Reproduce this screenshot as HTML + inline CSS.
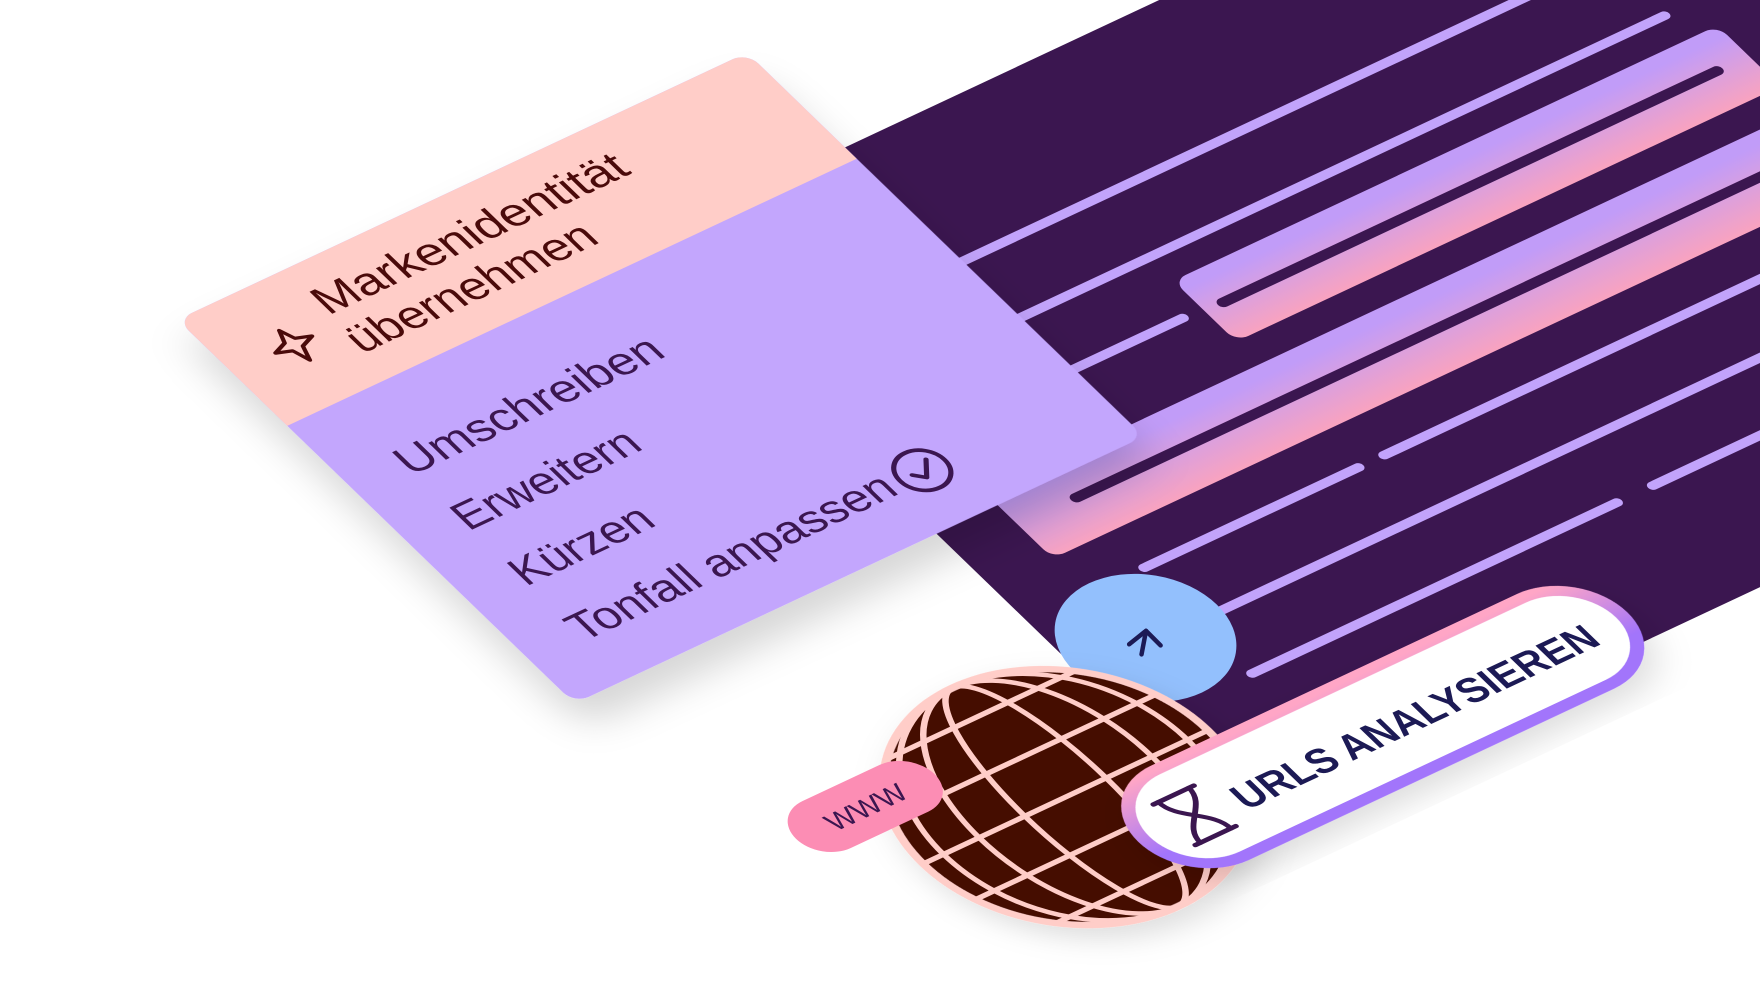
<!DOCTYPE html>
<html><head><meta charset="utf-8"><style>
html,body{margin:0;padding:0;background:#fff;width:1760px;height:990px;overflow:hidden}
svg{display:block}
text{font-family:"Liberation Sans",sans-serif}
</style></head><body>
<svg width="1760" height="990" viewBox="0 0 1568 882" xmlns="http://www.w3.org/2000/svg">
<defs>
<linearGradient id="blk" x1="0" y1="0" x2="0" y2="1">
<stop offset="0.15" stop-color="#c19cf8"/><stop offset="1" stop-color="#f9a3bf"/>
</linearGradient>
<linearGradient id="pill" x1="0" y1="0" x2="0" y2="1">
<stop offset="0" stop-color="#ffa6c6"/><stop offset="0.7" stop-color="#a274fb"/>
</linearGradient>
<filter id="sh" x="-30%" y="-30%" width="160%" height="160%">
<feDropShadow dx="-10" dy="25" stdDeviation="18" flood-color="#000" flood-opacity="0.16"/>
</filter>
<filter id="sh2" x="-30%" y="-30%" width="160%" height="160%">
<feDropShadow dx="0" dy="14" stdDeviation="14" flood-color="#000" flood-opacity="0.13"/>
</filter>
<clipPath id="gclip"><circle cx="-95" cy="650" r="137"/></clipPath>
</defs>
<g transform="matrix(0.906,-0.425,0.719,0.695,568,218)">
  <rect x="0" y="0" width="1500" height="750" fill="#3b1650"/>
  <g stroke="#c2a3fb" stroke-width="9" stroke-linecap="round" fill="none">
    <line x1="150" y1="146" x2="1200" y2="146"/>
    <line x1="150" y1="218" x2="837" y2="218"/>
    <line x1="150" y1="284" x2="311" y2="284"/>
    <line x1="114" y1="484" x2="325" y2="484"/>
    <line x1="350" y1="484" x2="1200" y2="484"/>
    <line x1="110" y1="552" x2="1200" y2="552"/>
    <line x1="113" y1="619" x2="472" y2="619"/>
    <line x1="507" y1="619" x2="1200" y2="619"/>
  </g>
  <rect x="330" y="248" width="535" height="78" rx="12" fill="url(#blk)"/>
  <line x1="348" y1="287" x2="834" y2="287" stroke="#3b1650" stroke-width="10" stroke-linecap="round"/>
  <rect x="60" y="355" width="1000" height="84" rx="12" fill="url(#blk)"/>
  <line x1="117" y1="396" x2="1100" y2="396" stroke="#3b1650" stroke-width="10" stroke-linecap="round"/>

  <g filter="url(#sh)">
    <rect x="-356" y="-121.5" width="560" height="492" rx="14" fill="#c3a6fd"/>
  </g>
  <path d="M-342,-121.5 H190 A14,14 0 0 1 204,-107.5 V14.5 H-356 V-107.5 A14,14 0 0 1 -342,-121.5 Z" fill="#ffcdc8"/>
  <path d="M-296,-71 L-291,-58 L-278,-53 L-291,-48 L-296,-33 L-301,-48 L-314,-53 L-301,-58 Z" fill="none" stroke="#4a0a0a" stroke-width="3.5" stroke-linejoin="round"/>
  <text x="-253" y="-64" font-size="41" fill="#4a0a0a" textLength="299" lengthAdjust="spacingAndGlyphs">Markenidentität</text>
  <text x="-257" y="-17" font-size="41" fill="#4a0a0a" textLength="235" lengthAdjust="spacingAndGlyphs">übernehmen</text>
  <g fill="#3b1650" font-size="41">
    <text x="-308" y="108" textLength="252" lengthAdjust="spacingAndGlyphs">Umschreiben</text>
    <text x="-308" y="179">Erweitern</text>
    <text x="-308" y="250">Kürzen</text>
    <text x="-308" y="321" textLength="312" lengthAdjust="spacingAndGlyphs">Tonfall anpassen</text>
  </g>
  <circle cx="34" cy="310" r="22" fill="none" stroke="#3b1650" stroke-width="4"/>
  <path d="M24,310 L32,318 L44,302" fill="none" stroke="#3b1650" stroke-width="4" stroke-linecap="round" stroke-linejoin="round"/>

  <circle cx="67" cy="545" r="70" fill="#93c0fd"/>

  <g filter="url(#sh2)">
    <circle cx="-95" cy="650" r="140" fill="#450a04" stroke="#ffcdc8" stroke-width="7"/>
  </g>
  <g clip-path="url(#gclip)" stroke="#ffcdc8" stroke-width="5" fill="none">
    <line x1="-260" y1="545" x2="60" y2="545"/>
    <line x1="-260" y1="598" x2="60" y2="598"/>
    <line x1="-260" y1="650" x2="60" y2="650"/>
    <line x1="-260" y1="702" x2="60" y2="702"/>
    <line x1="-260" y1="755" x2="60" y2="755"/>
    <ellipse cx="-95" cy="650" rx="40" ry="140"/>
    <ellipse cx="-95" cy="650" rx="85" ry="140"/>
    <ellipse cx="-95" cy="650" rx="120" ry="140"/>
  </g>

  <rect x="-302" y="547" width="136" height="60" rx="30" fill="#fc8db4"/>
  <text x="-234" y="587" font-size="26" fill="#3b1650" text-anchor="middle">WWW</text>

  <g filter="url(#sh2)">
    <rect x="-72" y="663" width="470" height="110" rx="55" fill="#fff" stroke="url(#pill)" stroke-width="11"/>
  </g>
  <g stroke="#3b1650" stroke-width="4.5" fill="none" stroke-linecap="round">
    <line x1="-42" y1="692" x2="-2" y2="692"/>
    <line x1="-42" y1="744" x2="-2" y2="744"/>
    <path d="M-37,692 C-37,714 -7,722 -7,744"/>
    <path d="M-7,692 C-7,714 -37,722 -37,744"/>
  </g>
  <text x="16" y="735" font-size="37" fill="#1c1a55" font-weight="bold" textLength="350" lengthAdjust="spacingAndGlyphs">URLS ANALYSIEREN</text>
</g>
<g stroke="#1c1a55" stroke-width="4" fill="none" stroke-linecap="round" stroke-linejoin="round">
  <path d="M1006,574 L1021,562 L1034,575"/>
  <line x1="1021" y1="562" x2="1017" y2="583"/>
</g>
</svg>
</body></html>
